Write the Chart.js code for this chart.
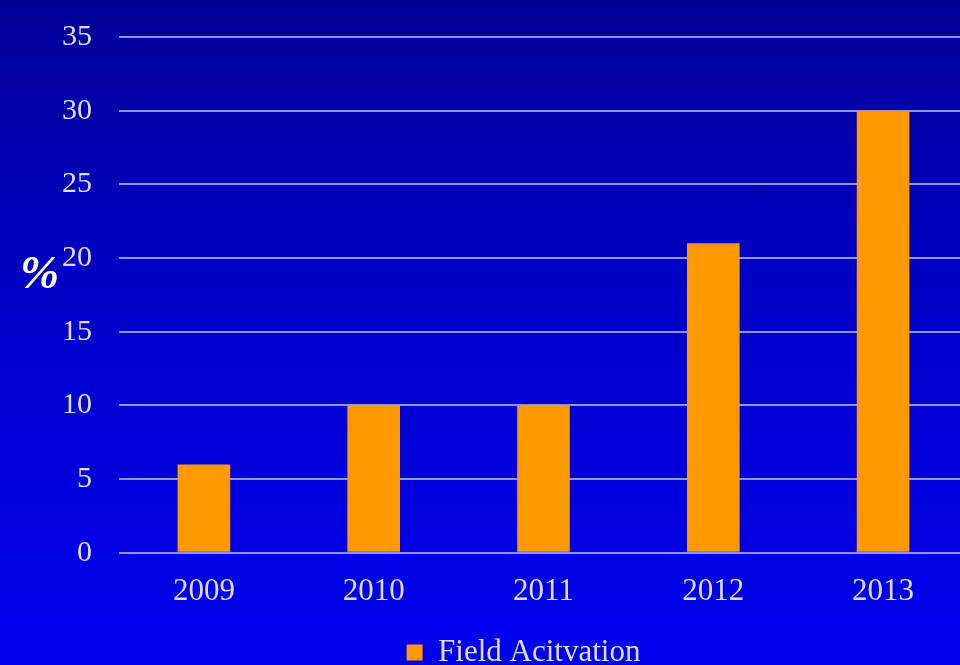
<!DOCTYPE html>
<html>
<head>
<meta charset="utf-8">
<script src="https://cdn.jsdelivr.net/npm/chart.js@4"></script>
<style>
  html, body { margin: 0; padding: 0; overflow: hidden; }
  #wrap {
    position: relative;
    width: 960px;
    height: 665px;
    overflow: hidden;
    background: linear-gradient(to bottom, #000096 0%, #0000c8 45%, #0000ef 100%);
  }
  #chart { position: absolute; left: 0; top: -8px; }
  #pct {
    position: absolute;
    left: 20px;
    top: 245px;
    font: italic bold 47px "Liberation Serif", "Times New Roman", serif;
    color: #ffffff;
  }
</style>
</head>
<body>
<div id="wrap">
  <canvas id="chart" width="968" height="686"></canvas>
  <div id="pct">%</div>
</div>
<script>
const years = ['2009', '2010', '2011', '2012', '2013'];
const fieldActivation = [6, 10, 10, 21, 30];
const seriesName = 'Field Acitvation';

const textColor = '#dcdcf6';
const serif = '"Liberation Serif", "Times New Roman", serif';

// nudge the legend a little left of the plot centre
const legendShift = {
  id: 'legendShift',
  afterLayout(chart) {
    chart.legend.left -= 20;
    chart.legend.right -= 20;
  }
};

new Chart(document.getElementById('chart').getContext('2d'), {
  type: 'bar',
  data: {
    labels: years,
    datasets: [{
      label: seriesName,
      data: fieldActivation,
      backgroundColor: '#ff9900',
      borderWidth: 0,
      categoryPercentage: 0.31,
      barPercentage: 1
    }]
  },
  options: {
    responsive: false,
    animation: false,
    layout: { padding: { top: 14, left: 0, right: 0, bottom: 0 } },
    plugins: {
      tooltip: { enabled: false },
      legend: {
        position: 'bottom',
        fullSize: false,
        labels: {
          color: textColor,
          font: { family: serif, size: 31 },
          boxWidth: 16,
          boxHeight: 16,
          padding: 15
        }
      }
    },
    scales: {
      x: {
        grid: { display: false },
        border: { display: false },
        ticks: {
          color: textColor,
          font: { family: serif, size: 31 },
          padding: 12
        }
      },
      y: {
        min: 0,
        max: 35,
        afterFit: (scale) => { scale.width = 119; },
        grid: {
          color: 'rgba(225, 225, 255, 0.65)',
          lineWidth: 2,
          drawTicks: false
        },
        border: { display: false },
        ticks: {
          stepSize: 5,
          color: textColor,
          font: { family: serif, size: 30 },
          padding: 27
        }
      }
    }
  },
  plugins: [legendShift]
});
</script>
</body>
</html>
